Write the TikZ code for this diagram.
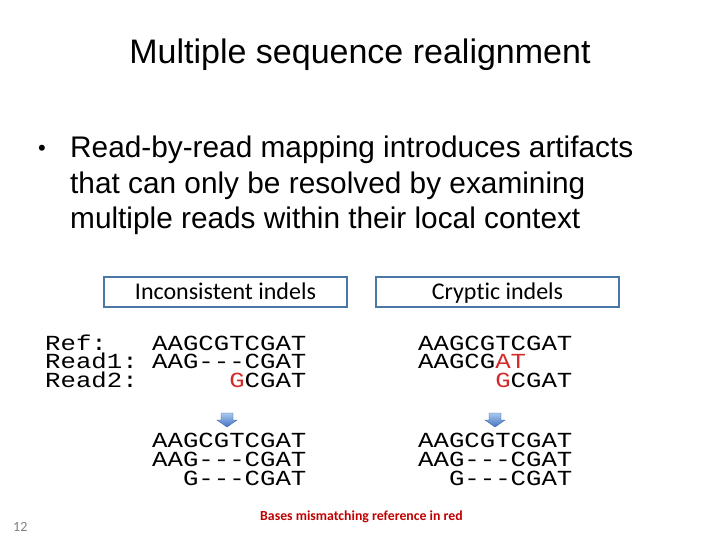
\documentclass[tikz,border=0pt]{standalone}
\usepackage{fontspec}
\setmainfont{Liberation Sans}
\setmonofont{Liberation Mono}[FakeStretch=1.195]
\newfontfamily\calfont{Carlito}[Ligatures=NoCommon]
\definecolor{boxblue}{HTML}{4A76A8}
\definecolor{basered}{HTML}{D42A2A}
\definecolor{footred}{HTML}{C00000}
\definecolor{arrowtop}{HTML}{A9C8EC}
\definecolor{arrowbot}{HTML}{4472C4}
\newcommand{\mis}[1]{\textcolor{basered}{#1}}

\begin{document}
\begin{tikzpicture}[x=1pt, y=-1pt,
	seq/.style={anchor=base west, inner sep=0pt, text height=15pt, text depth=0pt,
		font=\ttfamily\fontsize{21.5}{22}\selectfont},
	bullettext/.style={anchor=base west, inner sep=0pt, font=\fontsize{29.8}{32}\selectfont},
	headbox/.style={draw=boxblue, line width=2pt, minimum width=243pt, minimum height=30pt,
		text height=15pt, text depth=0pt, inner sep=0pt, font=\calfont\fontsize{24}{26}\selectfont}]
	\useasboundingbox (0,0) rectangle (720,540);

	% Draw title and bullet
	\node[anchor=base, inner sep=0pt, font=\fontsize{34}{40}\selectfont] (title) at (360,64) {Multiple sequence realignment};
	\node[anchor=base west, inner sep=0pt, font=\fontsize{22}{24}\selectfont] (dot) at (38,156) {\textbullet};
	\node[bullettext] (lineA) at (70,158) {Read-by-read mapping introduces artifacts};
	\node[bullettext] (lineB) at (70,194) {that can only be resolved by examining};
	\node[bullettext] (lineC) at (70,229) {multiple reads within their local context};

	% Draw headers
	\node[headbox] (incbox) at (225.5,291.5) {Inconsistent indels};
	\node[headbox] (crybox) at (497.5,291.5) {Cryptic indels};

	% Draw reads before realignment
	\node[seq] (refname) at (45,350) {Ref:};
	\node[seq] (readAname) at (45,368.5) {Read1:};
	\node[seq] (readBname) at (45,387) {Read2:};
	\node[seq] (incref) at (152,350) {AAGCGTCGAT};
	\node[seq] (increadA) at (152,368.5) {AAG---CGAT};
	\node[seq] (increadB) at (152,387) {\phantom{AAGCG}\mis{G}CGAT};
	\node[seq] (cryref) at (418,350) {AAGCGTCGAT};
	\node[seq] (cryreadA) at (418,368.5) {AAGCG\mis{AT}};
	\node[seq] (cryreadB) at (418,387) {\phantom{AAGCG}\mis{G}CGAT};

	% Draw block arrows
	\foreach \ax in {227,495}
		\shade[top color=arrowtop, bottom color=arrowbot, draw=arrowbot!85!black, line width=0.4pt]
			(\ax-6,413) -- (\ax+6,413) -- (\ax+6,420) -- (\ax+10,420) -- (\ax,427)
			-- (\ax-10,420) -- (\ax-6,420) -- cycle;

	% Draw reads after realignment
	\node[seq] (incnewref) at (152,447) {AAGCGTCGAT};
	\node[seq] (incnewA) at (152,466) {AAG---CGAT};
	\node[seq] (incnewB) at (152,485) {\phantom{AA}G---CGAT};
	\node[seq] (crynewref) at (418,447) {AAGCGTCGAT};
	\node[seq] (crynewA) at (418,466) {AAG---CGAT};
	\node[seq] (crynewB) at (418,485) {\phantom{AA}G---CGAT};

	% Draw footer
	\node[anchor=base west, inner sep=0pt, text=footred, font=\calfont\bfseries\fontsize{13.8}{15}\selectfont] (note) at (260,520) {Bases mismatching reference in red};
	\node[anchor=base west, inner sep=0pt, text=gray, font=\calfont\fontsize{14}{15}\selectfont] (pagenum) at (13,531) {12};
\end{tikzpicture}
\end{document}
